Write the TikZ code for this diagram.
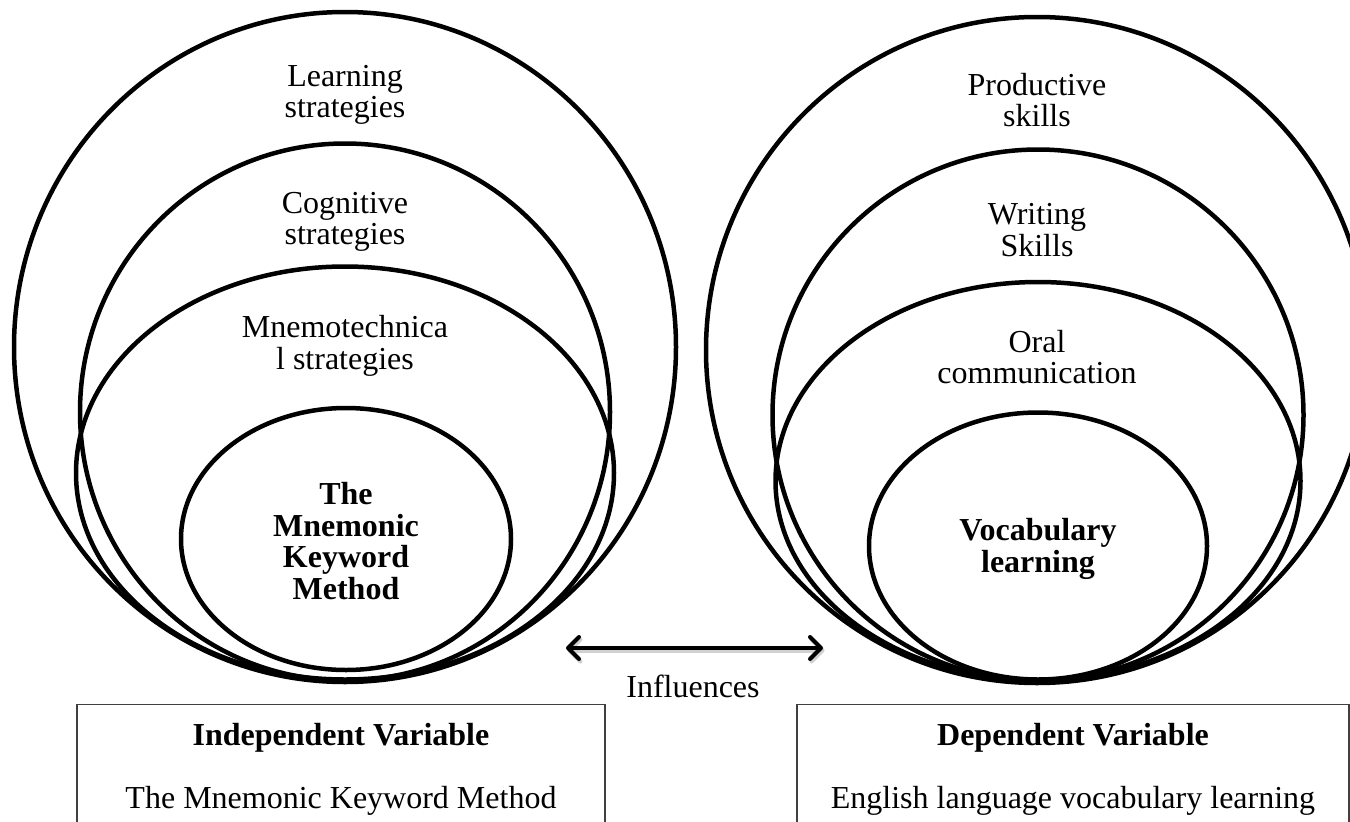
\documentclass[tikz,border=0pt]{standalone}
\usepackage{fontspec}
\setmainfont{Liberation Serif}
\usepackage{tikz}
\usetikzlibrary{shapes.geometric,positioning,arrows.meta}
\pgfkeys{tikz/ring/.style={draw,ellipse,line width=4.5pt,inner sep=0pt,outer sep=0pt}}
\pgfkeys{tikz/lbl/.style={align=center,inner sep=0pt,font=\fontsize{32}{31.5}\selectfont}}
\pgfkeys{tikz/lblb/.style={lbl,font=\fontsize{32}{31.5}\selectfont\bfseries}}
\pgfkeys{tikz/varbox/.style={draw=black!75,line width=1.2pt,inner sep=0pt,minimum height=160pt,anchor=north}}
\pgfkeys{tikz/influence/.style={line width=4pt,<->,>={Straight Barb[length=11pt,width=22pt,round]}}}

\begin{document}
\begin{tikzpicture}[x=1pt,y=-1pt]
  \clip (0,0) rectangle (1350,822);

  % independent variable side
  \node[ring,minimum width=662pt,minimum height=670pt] (lout) at (345,347) {};
  \node[ring,minimum width=530pt,minimum height=537pt] (lcog) at (345,412) {};
  \node[ring,minimum width=538pt,minimum height=413pt] (lmne) at (345,473) {};
  \node[ring,minimum width=330pt,minimum height=262pt] (lkey) at (346,539) {};

  \node[lbl] (learn) at (345,95) {Learning\\strategies};
  \node[lbl] (cogn) at (345,222) {Cognitive\\strategies};
  \node[lbl] (mnemo) at (345,346) {Mnemotechnica\\l strategies};
  \node[lblb] (kwm) at (346,541) {The\\Mnemonic\\Keyword\\Method};

  % dependent variable side
  \node[ring,minimum width=662pt,minimum height=666pt] (rout) at (1037,350) {};
  \node[ring,minimum width=531pt,minimum height=531pt] (rwri) at (1038,415) {};
  \node[ring,minimum width=525pt,minimum height=398pt] (rora) at (1038,481) {};
  \node[ring,minimum width=338pt,minimum height=267pt] (rvoc) at (1038,546) {};

  \node[lbl] (prod) at (1037,100) {Productive\\skills};
  \node[lbl] (writ) at (1037,230) {Writing\\Skills};
  \node[lbl] (oral) at (1037,357) {Oral\\communication};
  \node[lblb] (vocab) at (1038,549) {Vocabulary\\learning};

  % influence arrow
  \coordinate (arrL) at (566,648);
  \coordinate (arrR) at (823,648);
  \draw[influence,black!18,transform canvas={shift={(1.5pt,-2.5pt)}}] (arrL) -- (arrR);
  \draw[influence] (arrL) -- (arrR);
  \node[lbl] (infl) at (693,686) {Influences};

  % variable boxes
  \node[varbox,minimum width=528pt] (indep) at (341,704) {};
  \node[lblb,below=19.5pt of indep.north] (indeph) {Independent Variable};
  \node[lbl,below=33pt of indeph] (indepv) {The Mnemonic Keyword Method};

  \node[varbox,minimum width=552pt] (dep) at (1073,704) {};
  \node[lblb,below=19.5pt of dep.north] (deph) {Dependent Variable};
  \node[lbl,below=33pt of deph] (depv) {English language vocabulary learning};
\end{tikzpicture}
\end{document}
